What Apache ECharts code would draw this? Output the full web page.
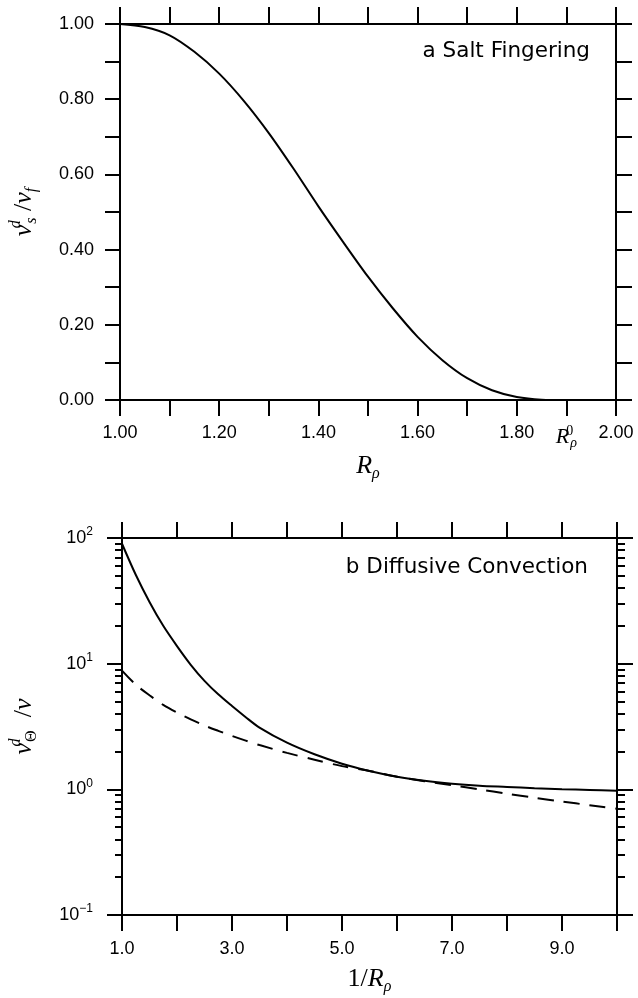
<!DOCTYPE html>
<html>
<head>
<meta charset="utf-8">
<title>Salt fingering and diffusive convection</title>
<script src="https://cdn.jsdelivr.net/npm/echarts@6/dist/echarts.min.js"></script>
<style>
  html, body { margin: 0; padding: 0; background: #fff; }
  #chart { width: 638px; height: 998px; }
</style>
</head>
<body>
<div id="chart"></div>
<script>
// panel a - salt fingering
const rhoValues = [1.00, 1.05, 1.10, 1.15, 1.20, 1.25, 1.30, 1.35, 1.40, 1.45,
                   1.50, 1.55, 1.60, 1.65, 1.70, 1.75, 1.80, 1.85, 1.90];
const saltRatio = [1.000, 0.992, 0.970, 0.926, 0.868, 0.795, 0.710, 0.615, 0.515, 0.420,
                   0.328, 0.244, 0.168, 0.106, 0.058, 0.026, 0.008, 0.001, 0.000];

// panel b - diffusive convection
const invRho = [1.0, 1.25, 1.5, 1.75, 2.0, 2.25, 2.5, 2.75, 3.0, 3.25, 3.5, 4.0, 4.5, 5.0,
                5.5, 6.0, 6.5, 7.0, 7.5, 8.0, 8.5, 9.0, 9.5, 10.0];
const thetaSolid = [90, 51, 31, 20, 13.8, 9.8, 7.3, 5.7, 4.6, 3.75, 3.1, 2.35, 1.9, 1.6,
                    1.4, 1.26, 1.17, 1.11, 1.07, 1.045, 1.02, 1.0, 0.99, 0.975];
const thetaDashed = [8.8, 6.8, 5.6, 4.7, 4.08, 3.6, 3.22, 2.92, 2.66, 2.44, 2.25, 1.95, 1.72, 1.53,
                     1.40, 1.26, 1.16, 1.08, 1.0, 0.923, 0.857, 0.80, 0.748, 0.70];

// tick labels
const saltXTickLabels = ['1.00', '', '1.20', '', '1.40', '', '1.60', '', '1.80', 'R0', '2.00'];
const saltYTickLabels = ['0.00', '', '0.20', '', '0.40', '', '0.60', '', '0.80', '', '1.00'];
const diffXTickLabels = ['1.0', '', '3.0', '', '5.0', '', '7.0', '', '9.0', ''];
const diffYExponents = [-1, 0, 1, 2];

// minor ticks of the log axis (2..9 in each decade), in log10 units
const logMinorTicks = [];
diffYExponents.slice(0, -1).forEach(e => {
  for (let k = 2; k <= 9; k++) logMinorTicks.push(e + Math.log10(k));
});

const black = '#000';
const sansFont = 'Liberation Sans, Arial, sans-serif';
const serifFont = 'Liberation Serif, Times New Roman, serif';

const axisLine = { show: true, onZero: false, lineStyle: { color: black, width: 2 } };
const tick = (len) => ({ show: true, length: len, lineStyle: { color: black, width: 2 } });
const noLabel = { show: false };
const noSplit = { show: false };

// math-ish rich text (italic serif, stacked sup/sub)
const mathRich = {
  it: { fontFamily: serifFont, fontStyle: 'italic', fontSize: 26, color: black, lineHeight: 32 },
  sl: { fontFamily: serifFont, fontSize: 26, color: black, lineHeight: 32 },
  up: { fontFamily: serifFont, fontStyle: 'italic', fontSize: 16, color: black, lineHeight: 16, verticalAlign: 'top', width: 1 },
  dn: { fontFamily: serifFont, fontStyle: 'italic', fontSize: 16, color: black, lineHeight: 16, verticalAlign: 'bottom' },
  dnr: { fontFamily: serifFont, fontSize: 16, color: black, lineHeight: 16, verticalAlign: 'bottom' }
};

const tickRich = {
  it: { fontFamily: serifFont, fontStyle: 'italic', fontSize: 22, color: black, lineHeight: 26 },
  up: { fontFamily: serifFont, fontSize: 14, color: black, lineHeight: 14, verticalAlign: 'top', width: 1 },
  dn: { fontFamily: serifFont, fontStyle: 'italic', fontSize: 14, color: black, lineHeight: 14, verticalAlign: 'bottom' },
  n: { fontFamily: sansFont, fontSize: 18, color: black, lineHeight: 24 },
  e: { fontFamily: sansFont, fontSize: 12, color: black, lineHeight: 12, verticalAlign: 'top' }
};

const chart = echarts.init(document.getElementById('chart'));

const option = {
  backgroundColor: '#fff',
  animation: false,
  title: [
    {
      text: 'a Salt Fingering', right: 48, top: 40, padding: 0,
      textStyle: { fontFamily: 'DejaVu Sans', fontSize: 21.5, fontWeight: 'normal', color: black }
    },
    {
      text: 'b Diffusive Convection', right: 50, top: 556, padding: 0,
      textStyle: { fontFamily: 'DejaVu Sans', fontSize: 21.5, fontWeight: 'normal', color: black }
    }
  ],
  grid: [
    { left: 118, top: 24, width: 498, height: 376 },
    { left: 118, top: 538, width: 499, height: 377 }
  ],
  xAxis: [
    {
      gridIndex: 0, type: 'value', min: 1, max: 2, interval: 0.1,
      axisLine, axisTick: tick(16), splitLine: noSplit,
      axisLabel: {
        margin: 24, fontFamily: sansFont, fontSize: 18, color: black, rich: tickRich,
        formatter: v => {
          const t = saltXTickLabels[Math.round((v - 1) * 10)] || '';
          return t === 'R0' ? '{it|R}{up|0}{dn|ρ}' : t;
        }
      },
      name: '{it|R}{dn|ρ}', nameLocation: 'middle', nameGap: 50,
      nameTextStyle: { rich: mathRich }
    },
    {
      gridIndex: 0, type: 'value', position: 'top', min: 1, max: 2, interval: 0.1,
      axisLine, axisTick: tick(17), axisLabel: noLabel, splitLine: noSplit
    },
    {
      gridIndex: 1, type: 'value', min: 1, max: 10, interval: 1,
      axisLine, axisTick: tick(16), splitLine: noSplit,
      axisLabel: {
        margin: 25, fontFamily: sansFont, fontSize: 18, color: black,
        formatter: v => diffXTickLabels[Math.round(v - 1)] || ''
      },
      name: '{sl|1/}{it|R}{dn|ρ}', nameLocation: 'middle', nameGap: 48,
      nameTextStyle: { rich: mathRich }
    },
    {
      gridIndex: 1, type: 'value', position: 'top', min: 1, max: 10, interval: 1,
      axisLine, axisTick: tick(16), axisLabel: noLabel, splitLine: noSplit
    }
  ],
  yAxis: [
    {
      gridIndex: 0, type: 'value', min: 0, max: 1, interval: 0.1,
      axisLine, axisTick: tick(15), splitLine: noSplit,
      axisLabel: {
        margin: 26, fontFamily: sansFont, fontSize: 18, color: black,
        formatter: v => saltYTickLabels[Math.round(v * 10)] || ''
      },
      name: '{it|ν}{up|d}{dn|s}{sl| /}{it|ν}{dn|f}', nameLocation: 'middle', nameRotate: 90, nameGap: 80,
      nameTextStyle: { rich: mathRich }
    },
    {
      gridIndex: 0, type: 'value', position: 'right', min: 0, max: 1, interval: 0.1,
      axisLine, axisTick: tick(16), axisLabel: noLabel, splitLine: noSplit
    },
    {
      gridIndex: 1, type: 'log', logBase: 10, min: 0.1, max: 100,
      axisLine, axisTick: tick(15), splitLine: noSplit, minorTick: { show: false },
      axisLabel: {
        margin: 29, rich: tickRich,
        formatter: v => {
          const e = Math.round(Math.log10(v));
          return '{n|10}{e|' + (e < 0 ? '−' + (-e) : e) + '}';
        }
      },
      name: '{it|ν}{up|d}{dnr|Θ}{sl|  /}{it|ν}', nameLocation: 'middle', nameRotate: 90, nameGap: 82,
      nameTextStyle: { rich: mathRich }
    },
    {
      gridIndex: 1, type: 'log', logBase: 10, min: 0.1, max: 100, position: 'right',
      axisLine, axisTick: tick(16), axisLabel: noLabel, splitLine: noSplit
    },
    {
      gridIndex: 1, type: 'value', min: -1, max: 2, position: 'left',
      axisLine: { show: false }, axisLabel: noLabel, splitLine: noSplit,
      axisTick: { show: true, length: 7, customValues: logMinorTicks, lineStyle: { color: black, width: 2 } }
    },
    {
      gridIndex: 1, type: 'value', min: -1, max: 2, position: 'right',
      axisLine: { show: false }, axisLabel: noLabel, splitLine: noSplit,
      axisTick: { show: true, length: 8, customValues: logMinorTicks, lineStyle: { color: black, width: 2 } }
    }
  ],
  series: [
    {
      name: 'salt', type: 'line', xAxisIndex: 0, yAxisIndex: 0,
      data: rhoValues.map((r, i) => [r, saltRatio[i]]),
      showSymbol: false, smooth: 0.3,
      lineStyle: { color: black, width: 2 }
    },
    {
      name: 'theta', type: 'line', xAxisIndex: 2, yAxisIndex: 2,
      data: invRho.map((r, i) => [r, thetaSolid[i]]),
      showSymbol: false, smooth: 0.3,
      lineStyle: { color: black, width: 2 }
    },
    {
      name: 'theta dashed', type: 'line', xAxisIndex: 2, yAxisIndex: 2,
      data: invRho.map((r, i) => [r, thetaDashed[i]]),
      showSymbol: false, smooth: 0.3,
      lineStyle: { color: black, width: 2, type: [16, 10] }
    }
  ]
};

chart.setOption(option);
</script>
</body>
</html>
